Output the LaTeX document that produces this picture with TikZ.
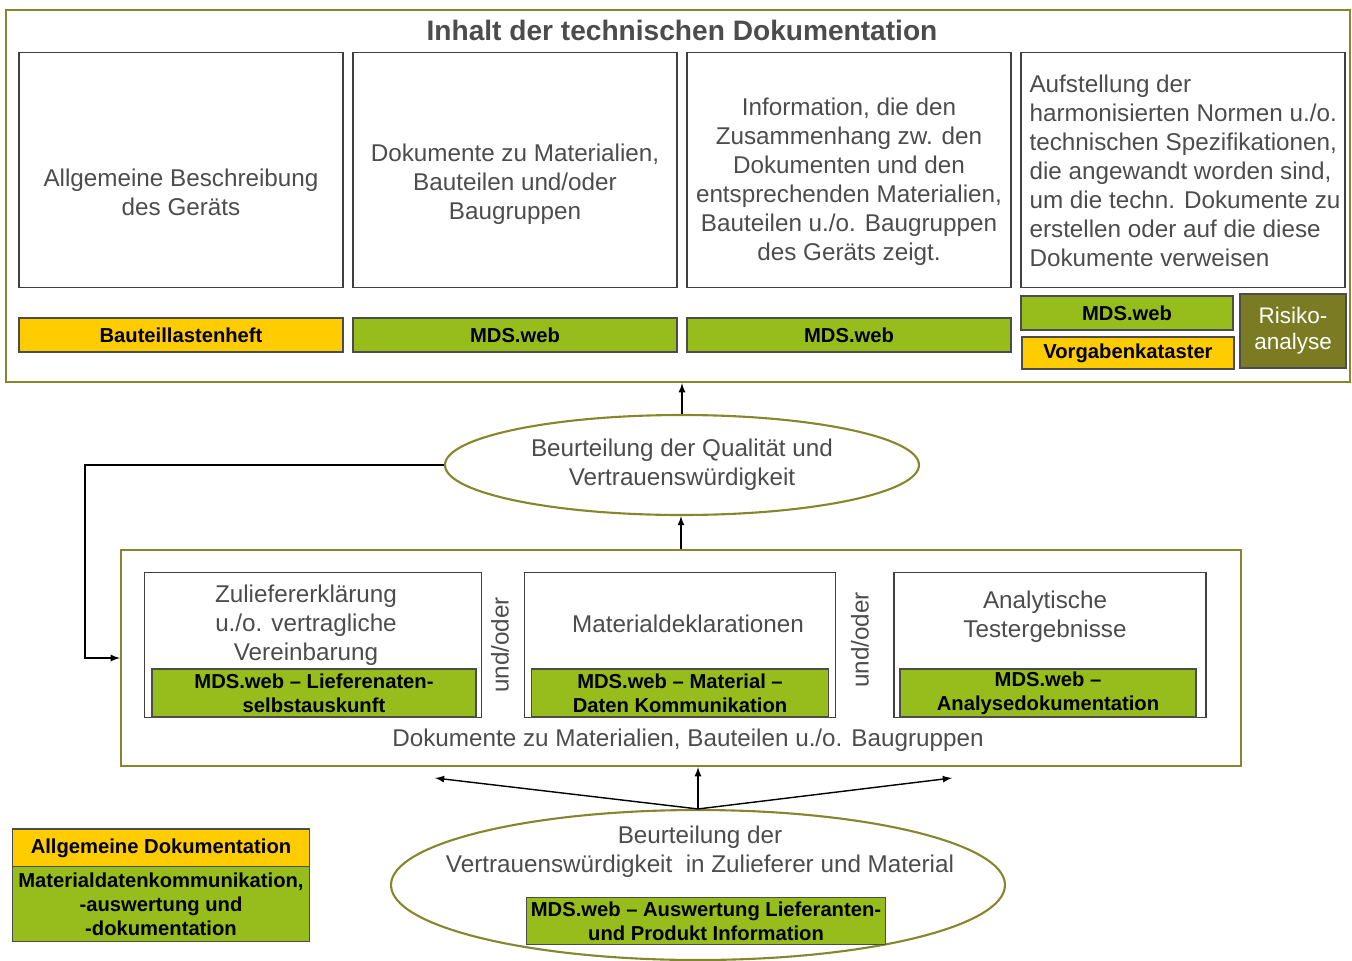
\documentclass[tikz,border=0pt]{standalone}
\usepackage{fontspec}
\setmainfont{Liberation Sans}
\usetikzlibrary{shapes.geometric}
\definecolor{olv}{HTML}{86862E}
\definecolor{gelb}{HTML}{FFCC00}
\definecolor{gruen}{HTML}{97BD1D}
\definecolor{risk}{HTML}{7B7B23}
\begin{document}
\begin{tikzpicture}[x=0.02cm,y=-0.02cm,
  sz/.style 2 args={minimum width=#1*0.02cm,minimum height=#2*0.02cm},
  frame/.style={draw=olv,line width=1.3pt,inner sep=0},
  doc/.style={draw=black!75,line width=0.9pt,inner sep=0},
  txt/.style={align=center,text=black!70,font=\fontsize{13.8}{16.5}\selectfont},
  tag/.style={draw=black!70,line width=0.8pt,inner sep=0,align=center,font=\bfseries\fontsize{11.5}{13.6}\selectfont},
  oval/.style={ellipse,draw=olv,line width=1.2pt,inner sep=0,fill=white}]
\useasboundingbox (0,0) rectangle (1352,960);
% oberer Rahmen
\node[frame,sz={1344}{372}] (tdoc) at (678,196) {};
\node[font=\bfseries\fontsize{16}{19}\selectfont,text=black!70] (title) at (682,30) {Inhalt der technischen Dokumentation};
\foreach \x [count=\i] in {181,515,849,1183}\node[doc,sz={324}{235}] (b\i) at (\x,170) {};
\node[txt] (t1) at (181,192) {Allgemeine Beschreibung\\des Geräts};
\node[txt] (t2) at (515,184) {Dokumente zu Materialien,\\Bauteilen und/oder\\Baugruppen};
\node[txt] (t3) at (849,182) {Information, die den\\Zusammenhang zw. den\\Dokumenten und den\\entsprechenden Materialien,\\Bauteilen u./o. Baugruppen\\des Geräts zeigt.};
\node[txt,align=left] (t4) at (1185,171) {Aufstellung der\\harmonisierten Normen u./o.\\technischen Spezifikationen,\\die angewandt worden sind,\\um die techn. Dokumente zu\\erstellen oder auf die diese\\Dokumente verweisen};
\foreach \x/\c/\t [count=\i] in {181/gelb/Bauteillastenheft,515/gruen/MDS.web,849/gruen/MDS.web}
  \node[tag,fill=\c,sz={324}{34}] (k\i) at (\x,335) {\t};
\node[tag,fill=gruen,sz={212}{34}] (k4) at (1127,313) {MDS.web};
\node[tag,fill=gelb,sz={212}{32}] (k5) at (1128,353) {Vorgabenkataster};
\node[tag,fill=risk,sz={106}{74},text=white,font=\fontsize{12.8}{15}\selectfont] (risk) at (1293,331) {Risiko-\\analyse};
% Beurteilung
\node[oval,sz={474}{100},txt] (q) at (682,465) {Beurteilung der Qualität und\\Vertrauenswürdigkeit};
% mittlerer Rahmen
\node[frame,sz={1120}{216}] (docs) at (681,658) {};
\node[doc,sz={337}{145}] (za) at (313,645) {};
\node[doc,sz={311}{145}] (zb) at (680,645) {};
\node[doc,sz={312}{145}] (zc) at (1050,645) {};
\node[txt] (ta) at (306,625) {Zuliefererklärung\\u./o. vertragliche\\Vereinbarung};
\node[txt] (tb) at (688,624) {Materialdeklarationen};
\node[txt] (tc) at (1045,617) {Analytische\\Testergebnisse};
\node[tag,fill=gruen,sz={324}{48}] (ga) at (314,693) {MDS.web – Lieferenaten-\\selbstauskunft};
\node[tag,fill=gruen,sz={297}{48}] (gb) at (680,693) {MDS.web – Material –\\Daten Kommunikation};
\node[tag,fill=gruen,sz={296}{48}] (gc) at (1048,693) {MDS.web –\\Analysedokumentation};
\node[txt,rotate=90] (uo1) at (500,645) {und/oder};
\node[txt,rotate=90] (uo2) at (860,640) {und/oder};
\node[txt] (dl) at (688,740) {Dokumente zu Materialien, Bauteilen u./o. Baugruppen};
% unten
\node[oval,sz={614}{150}] (v) at (698,885) {};
\node[txt] (tv) at (700,852) {Beurteilung der\\Vertrauenswürdigkeit\ \ in Zulieferer und Material};
\node[tag,fill=gruen,sz={359}{47}] (gv) at (706,921) {MDS.web – Auswertung Lieferanten-\\und Produkt Information};
\node[tag,fill=gelb,sz={297}{38}] (l1) at (161,848) {Allgemeine Dokumentation};
\node[tag,fill=gruen,sz={297}{75}] (l2) at (161,904) {Materialdatenkommunikation,\\-auswertung und\\-dokumentation};
% Pfeile
\coordinate (fb) at (85,465);
\coordinate (la) at (435,778);
\coordinate (ra) at (952,778);
\draw[-latex,thick] (q.north) -- (q.north |- tdoc.south);
\draw[-latex,thick] (docs.north) -- (docs.north |- q.south);
\draw[-latex,thick] (q.west) -- (fb) |- (docs.west);
\draw[-latex,thick] (v.north) -- (v.north |- docs.south);
\draw[-latex,thick] (v.north) -- (la);
\draw[-latex,thick] (v.north) -- (ra);
\end{tikzpicture}
\end{document}
